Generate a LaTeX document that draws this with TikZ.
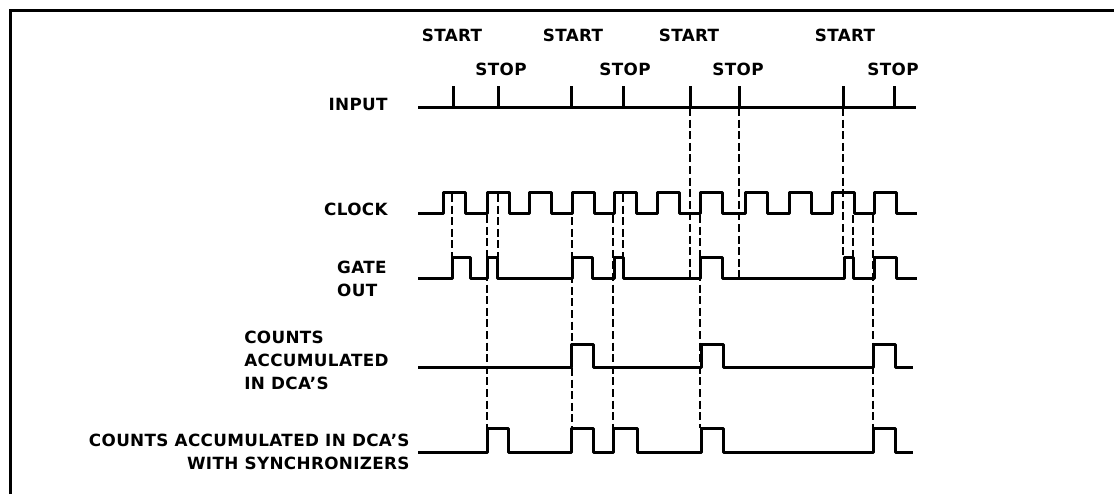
\documentclass[tikz,border=0pt]{standalone}
\usepackage{fontspec}
\newfontfamily\lblfont{DejaVu Sans}[LetterSpace=2]

\begin{document}
\begin{tikzpicture}[x=0.5pt,y=-0.5pt,
                    every node/.style={inner sep=0pt,font=\lblfont\bfseries\fontsize{8.4}{11.5}\selectfont},
                    sig/.style={line width=1.5pt,line join=round},
                    guide/.style={line width=0.6pt,dash pattern=on 4pt off 1.8pt}]
  \useasboundingbox (0,0) rectangle (1114,494);
  \draw[line width=1.5pt] (10,494) -- (10,10) -- (1114,10);

  % labels
  \node[anchor=east] (input) at (388,104) {INPUT};
  \node[anchor=east] (clock) at (388,209) {CLOCK};
  \node[anchor=east,align=left] (gate) at (387,279) {GATE\\OUT};
  \node[anchor=east,align=left] (dca) at (389,360) {COUNTS\\ACCUMULATED\\IN DCA’S};
  \node[anchor=east,align=right] (sync) at (410,452) {COUNTS ACCUMULATED IN DCA’S\\WITH SYNCHRONIZERS};

  \foreach \x [count=\i] in {452,573,689,845}
    \node (start\i) at (\x,35) {START};
  \foreach \x [count=\i] in {501,625,738,893}
    \node (stop\i) at (\x,69) {STOP};

  % input
  \draw[sig] (418,107) -- (916,107);
  \foreach \x in {453,498,571,623,690,739,843,894}
    \draw[sig] (\x,107) -- (\x,86);

  % clock
  \draw[sig] (418,213) \foreach \r in {443,487,529,572,614,657,700,745,789,832,874}
    { -- (\r,213) -- (\r,192) -- (\r+22,192) -- (\r+22,213) } -- (917,213);

  % gate out
  \draw[sig] (418,278) \foreach \a/\b in {452/470,487/497,572/592,614/623,700/722,844/853,874/896}
    { -- (\a,278) -- (\a,257) -- (\b,257) -- (\b,278) } -- (917,278);

  % counts in dca
  \draw[sig] (418,367) \foreach \a/\b in {571/593,701/723,873/895}
    { -- (\a,367) -- (\a,344) -- (\b,344) -- (\b,367) } -- (913,367);

  % counts with synchronizers
  \draw[sig] (418,452) \foreach \a/\b in {487/508,571/593,613/637,701/723,873/895}
    { -- (\a,452) -- (\a,428) -- (\b,428) -- (\b,452) } -- (913,452);

  % dashed guides
  \foreach \x/\ya/\yb in {452/194/257,498/194/257,623/194/257,853/215/257,
                          690/108/278,739/108/278,843/108/257,
                          487/215/428,572/194/428,613/215/428,700/215/428,873/215/428}
    \draw[guide] (\x,\ya) -- (\x,\yb);
\end{tikzpicture}
\end{document}
